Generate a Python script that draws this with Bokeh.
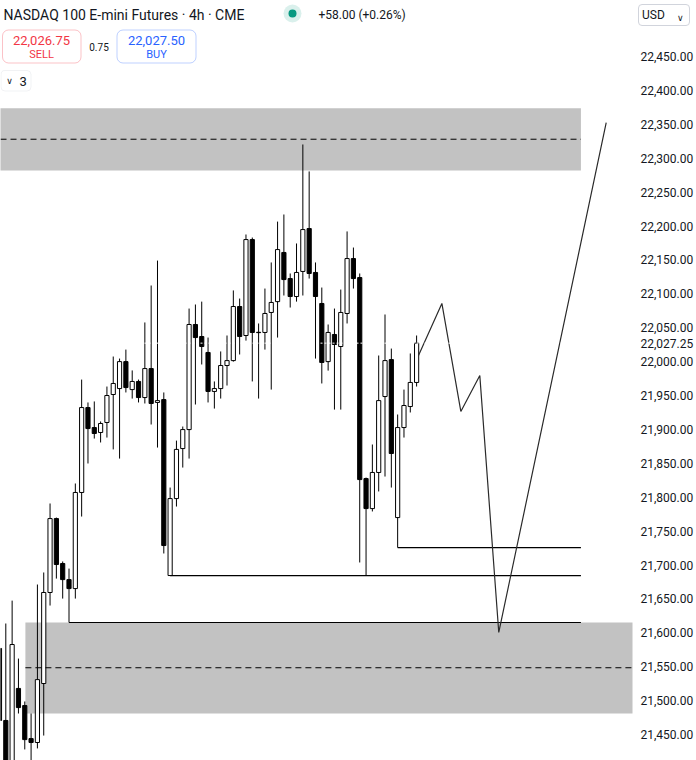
from bokeh.plotting import figure
from bokeh.models import Range1d, FixedTicker, NumeralTickFormatter, Label, BoxAnnotation, Span, Div
from bokeh.embed import file_html
from bokeh.resources import INLINE

# ---------------- data ----------------
bar_index = list(range(67))
opens = [21577, 21470.75, 21397, 21518, 21492.75, 21444, 21438.25, 21525.25, 21659.5, 21768.5,
         21702.25, 21678.5, 21665.25, 21807, 21932.25, 21902.75, 21895.5, 21910.25, 21951.5, 21960.25,
         22000, 21958.75, 21970.75, 21947, 21989.75, 21939.75, 21944, 21684.5, 21798, 21871.75,
         21899.75, 22054.75, 22037, 22013.5, 21956, 21960.25, 21994.25, 22001.5, 22081.25, 22038.5,
         22180, 22043.25, 22043, 22072.5, 22088.5, 22161, 22122.5, 22096, 22133, 22196.25,
         22131.5, 22085.75, 22000, 22040, 22022.25, 22071, 22152, 22124, 21827.5, 21783.25,
         21836.5, 21948.5, 22003, 21770, 21902.75, 21933.75, 21969.25]
highs = [21581.25, 21613.75, 21647.5, 21562, 21498.75, 21481, 21671.25, 21689, 21790.75, 21770,
         21705.25, 21694.75, 21820.25, 21973.5, 21939.75, 21941.25, 21911.75, 21963.25, 22007.5, 22004.5,
         22017.75, 21987, 21973.5, 22057.75, 22112.25, 22149, 21954.5, 21814.25, 21883.5, 21904.25,
         22078.25, 22084.25, 22088.5, 22035.5, 21970.75, 22015, 22038.5, 22105, 22093, 22187.5,
         22183, 22056.25, 22107.75, 22146.25, 22206.5, 22217, 22130, 22174.25, 22320.25, 22280.5,
         22146.25, 22109.25, 22054.75, 22078.25, 22106.25, 22192, 22168.25, 22130, 21829, 21877.75,
         22009, 22069.5, 22019.25, 21922, 21958.75, 22012, 22038.5]
lows = [21448.5, 21382, 21389.5, 21481, 21428, 21404.25, 21429.5, 21448.5, 21640.25, 21680,
        21650.5, 21615.25, 21650.5, 21771.5, 21849.75, 21886.5, 21880.75, 21888, 21870.5, 21857,
        21954.5, 21945.5, 21939.75, 21938.25, 21907.25, 21873.25, 21717, 21684.5, 21786.25, 21843.75,
        21857, 21936.75, 21995.75, 21939.75, 21930.75, 21945.5, 21964.75, 22000, 22010.5, 22031,
        21970.75, 21945.5, 22017.75, 21958.75, 22035.5, 22097.5, 22079.75, 22088.5, 22097.5, 22122.5,
        22004.5, 21967.75, 21986.75, 21929.25, 21929.25, 22056.25, 22107.75, 21703.75, 21684.5, 21779,
        21808.5, 21830.5, 21814.25, 21725.75, 21888, 21925, 21963.25]
closes = [21470.75, 21397, 21582.75, 21489.75, 21442.5, 21438.25, 21531, 21659.5, 21768.5, 21700.75,
          21678.5, 21665.25, 21807, 21932.25, 21901.25, 21894, 21908.75, 21950, 21967.75, 22000,
          21961.75, 21970.75, 21947, 21989.75, 21938.25, 21942.5, 21728.75, 21798, 21870.5, 21899.75,
          22054.75, 22035.5, 22022.25, 21956, 21960.25, 21994.25, 22001.5, 22081.25, 22037, 22180,
          22043, 22042.75, 22071, 22087.25, 22165.25, 22121, 22096, 22131.5, 22194.75, 22130,
          22096, 21998.75, 22043, 22025.25, 22072.5, 22152, 22122.5, 21826, 21783.25, 21836.5,
          21942.5, 22001.5, 21864.5, 21902.75, 21935.25, 21969.25, 22027.25]

# supply / demand zones
zone_top = [22373.5, 21615.25]
zone_bottom = [22281.75, 21481.0]
zone_mid = [22328.0, 21548.5]
zone_start = [-3, 4.1]
zone_end = [92, 104]

# horizontal levels (price, starting bar)
level_price = [21615.25, 21684.5, 21725.75]
level_start = [11, 27, 63]
level_end = [92, 92, 92]

# projected path
proj_bar = [66.3, 70, 73, 76, 79, 96]
proj_price = [22009, 22085.75, 21926.5, 21979.5, 21600.5, 22352.5]

last_price = 22027.25
price_ticks = [21450, 21500, 21550, 21600, 21650, 21700, 21750, 21800, 21850, 21900, 21950,
               22000, 22050, 22100, 22150, 22200, 22250, 22300, 22350, 22400, 22450, 22027.25]

title_text = "NASDAQ 100 E-mini Futures · 4h · CME"
change_text = "+58.00 (+0.26%)"
sell_price, buy_price, spread = "22,026.75", "22,027.50", "0.75"
currency = "USD"

# ---------------- figure ----------------
W, H = 696, 760
p = figure(width=W, height=H, output_backend="svg", toolbar_location=None,
           x_range=Range1d(0.16, 100.16), y_range=Range1d(21411.7, 22532.6),
           x_axis_location=None, y_axis_location="right",
           min_border_left=0, min_border_top=0, min_border_bottom=0, min_border_right=64)
p.outline_line_color = None
p.grid.visible = False
p.background_fill_color = "white"
p.border_fill_color = "white"

ax = p.yaxis[0]
ax.ticker = FixedTicker(ticks=price_ticks)
ax.formatter = NumeralTickFormatter(format="0,0.00")
ax.axis_line_color = None
ax.major_tick_line_color = None
ax.minor_tick_line_color = None
ax.major_tick_out = 0
ax.major_tick_in = 0
ax.major_label_standoff = 8
ax.major_label_text_font = "Roboto"
ax.major_label_text_font_size = "12px"
ax.major_label_text_color = "#131722"

# zones
p.quad(left=zone_start, right=zone_end, top=zone_top, bottom=zone_bottom,
       fill_color="#c2c2c2", line_color=None)

# candles
up = [c >= o for o, c in zip(opens, closes)]
body_top = [max(o, c) for o, c in zip(opens, closes)]
body_bot = [min(o, c) for o, c in zip(opens, closes)]
fills = ["white" if u else "black" for u in up]
p.segment(x0=bar_index, y0=lows, x1=bar_index, y1=highs, line_color="black", line_width=1)
p.vbar(x=bar_index, width=0.66, top=body_top, bottom=body_bot,
       fill_color=fills, line_color="black", line_width=1)

# current price dotted line (visible over dark bodies)
p.add_layout(Span(location=last_price, dimension="width", line_color="white",
                  line_dash="2 2", line_width=1))

# zone midlines
p.segment(x0=zone_start, y0=zone_mid, x1=zone_end, y1=zone_mid,
          line_color="black", line_width=1, line_dash="6 4")

# levels
p.segment(x0=level_start, y0=level_price, x1=level_end, y1=level_price,
          line_color="black", line_width=1.2)

# projection path
p.line(x=proj_bar, y=proj_price, line_color="#2a2a2a", line_width=1.2)

# ---------------- header ----------------
def lab(x, y, text, size, color="#131722", align="left", font="Roboto"):
    p.add_layout(Label(x=x, y=H - y, x_units="screen", y_units="screen", text=text,
                       text_font=font, text_font_size=size, text_color=color,
                       text_align=align, text_baseline="middle"))

def box(l, t, r, b, line, fill="white", radius=5, alpha=1.0):
    p.add_layout(BoxAnnotation(left=l, right=r, top=H - t, bottom=H - b,
                               left_units="screen", right_units="screen",
                               top_units="screen", bottom_units="screen",
                               fill_color=fill, fill_alpha=alpha, line_color=line,
                               line_width=1, border_radius=radius))

lab(3, 14, title_text, "14px")
box(283, 4, 301, 22, None, fill="#089981", radius=9, alpha=0.15)
box(288, 9, 296, 17, None, fill="#089981", radius=4)
lab(318, 14, change_text, "12px")

box(2, 29.5, 80.5, 62.5, "#f23645", radius=6)
lab(41, 40, sell_price, "13px", color="#f23645", align="center")
lab(41, 54, "SELL", "11px", color="#f23645", align="center")
lab(98.5, 46, spread, "10px", align="center")
box(116.5, 29.5, 195.5, 62.5, "#2962ff", radius=6)
lab(156, 40, buy_price, "13px", color="#2962ff", align="center")
lab(156, 54, "BUY", "11px", color="#2962ff", align="center")

box(0.5, 70, 30.5, 90.5, "#d1d4dc", radius=4)
lab(9, 80, "∨", "9px", align="center", font="DejaVu Sans")
lab(19, 81, "3", "13px")

# currency selector sits over the price-scale area (outside the frame)
if hasattr(p, "elements"):
    usd = Div(text=currency + '<span style="position:absolute;right:5px;top:3px;font-size:9px;">&#8744;</span>',
              styles={"position": "absolute", "left": "638px", "top": "4px",
                      "width": "52px", "height": "22px", "box-sizing": "border-box",
                      "border": "1px solid #d1d4dc", "border-radius": "4px",
                      "font-family": "Roboto", "font-size": "12px", "color": "#131722",
                      "line-height": "20px", "padding-left": "3px", "background": "white",
                      "z-index": "10"})
    p.elements.append(usd)

open("out.html", "w").write(file_html(p, INLINE))
